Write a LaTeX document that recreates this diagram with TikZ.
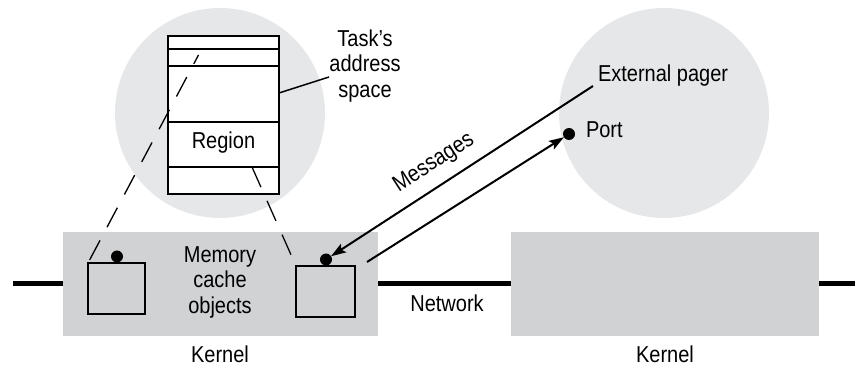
\documentclass[tikz,border=0pt]{standalone}
\usepackage{fontspec}
\setmainfont{Liberation Sans}[FakeStretch=0.87]
\usetikzlibrary{arrows.meta}
\definecolor{circfill}{HTML}{E6E7E8}
\definecolor{kernfill}{HTML}{D1D2D4}
\begin{document}
\begin{tikzpicture}[x=1pt,y=-1pt,
  font=\fontsize{23}{25.5}\selectfont,
  every node/.style={inner sep=0pt,outer sep=0pt},
  bigcircle/.style={circle,fill=circfill,minimum size=210pt},
  kernbox/.style={rectangle,fill=kernfill,minimum height=104pt},
  cachebox/.style={rectangle,draw=black,line width=2.5pt,minimum width=57pt,minimum height=51pt},
  blackdot/.style={circle,fill=black,minimum size=12pt},
  thin line/.style={line width=1.2pt},
  msg/.style={line width=2pt,-{Stealth[length=15pt,width=10pt,inset=3pt]}},
  dashline/.style={line width=1.3pt,dash pattern=on 22pt off 15pt,dash phase=12pt},
  net/.style={line width=5pt}]
\useasboundingbox (0,0) rectangle (868,366);
% circles
\node[bigcircle] (lc) at (220,113) {};
\node[bigcircle] (rc) at (664,113) {};
% kernels
\node[kernbox,minimum width=315pt] (kL) at (220.5,284) {};
\node[kernbox,minimum width=308pt] (kR) at (665,284) {};
% network
\coordinate (netL) at (13,284);
\coordinate (netR) at (855,284);
\draw[net] (netL) -- (kL.west);
\draw[net] (kL.east) -- (kR.west);
\draw[net] (kR.east) -- (netR);
% address space rectangle
\node[rectangle,fill=white,minimum width=111pt,minimum height=158pt] (as) at (223.5,115) {};
\coordinate (l1w) at (168,49); \coordinate (l1e) at (279,49);
\coordinate (l2w) at (168,66); \coordinate (l2e) at (279,66);
\coordinate (l3w) at (168,122); \coordinate (l3e) at (279,122);
\coordinate (l4w) at (168,167); \coordinate (l4e) at (279,167);
\draw[thin line] (l1w) -- (l1e) (l2w) -- (l2e) (l3w) -- (l3e) (l4w) -- (l4e);
\draw[line width=2.5pt] (as.north west) rectangle (as.south east);
\node (region) at (223.5,143) {Region};
% task label
\node[align=center] (task) at (365,66) {Task’s\\address\\space};
\coordinate (lead) at (329,77);
\draw[line width=1.5pt] (as.east |- 0,93) -- (lead);
% cache objects
\node[cachebox] (cL) at (116.5,288.5) {};
\node[cachebox,minimum width=59pt] (cR) at (325.5,291.5) {};
\node[blackdot] (dL) at (117,256.5) {};
\node[blackdot] (dR) at (326,259.5) {};
\node[align=center] (mco) at (220,282) {Memory\\cache\\objects};
% dashed mapping lines
\coordinate (ds1) at (198.5,55);
\coordinate (ds2) at (252,167);
\draw[dashline] (ds1) -- (cL.north west);
\draw[dashline,dash phase=0pt] (ds2) -- (cR.north west);
% pager and port
\node[anchor=base west] (pager) at (598,82) {External pager};
\node[blackdot] (port) at (569,134) {};
\node[anchor=west] (portlbl) at (586,130) {Port};
\coordinate (pgs) at (593,86);
\coordinate (prs) at (367,262);
\draw[msg] (pgs) -- (dR);
\draw[msg] (prs) -- (port);
\node[rotate=33] (messages) at (434,163) {Messages};
% labels
\node (net lbl) at (447,303.5) {Network};
\node (kLlbl) at (220,354.5) {Kernel};
\node (kRlbl) at (665,354.5) {Kernel};
\end{tikzpicture}
\end{document}
